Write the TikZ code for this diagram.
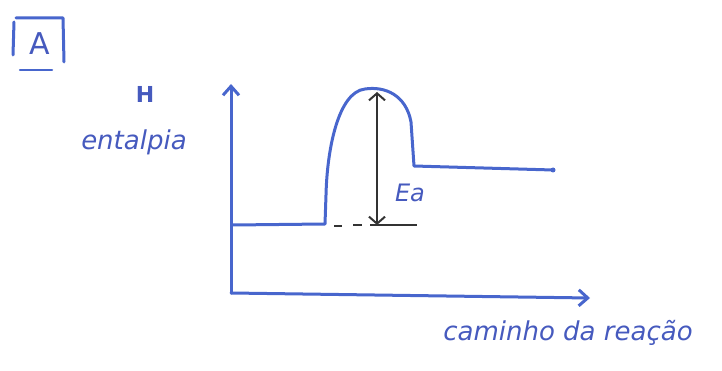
\documentclass[tikz,border=0pt]{standalone}
\usepackage{fontspec}
\setmainfont{DejaVu Sans}
\usetikzlibrary{arrows.meta}
\definecolor{pen}{RGB}{72,102,205}
\definecolor{ink}{RGB}{70,90,190}
\begin{document}
\begin{tikzpicture}[x=1pt,y=-1pt,
  penline/.style={draw=pen,line width=3pt,line cap=round,line join=round},
  axis/.style={penline,-{Straight Barb[length=9pt,width=16pt]}},
  handtext/.style={text=ink,font=\itshape\fontsize{26}{28}\selectfont,inner sep=0pt}]
\useasboundingbox (0,0) rectangle (722,371);
% boxed label A
\draw[penline] (14,22) -- (13,55);
\draw[penline] (16,18) -- (63,18) -- (64,62);
\node[handtext,font=\fontsize{30}{32}\selectfont] (lblA) at (40,44) {A};
\draw[penline,line width=2.5pt] (20,70) -- (52,70);
% axes
\coordinate (o) at (231,293);
\coordinate (ytip) at (231,84);
\coordinate (xtip) at (590,298);
\draw[axis] (o) -- (ytip);
\draw[axis] (o) -- (xtip);
% labels
\node[handtext,font=\bfseries\fontsize{22}{24}\selectfont] (H) at (145,94) {H};
\node[handtext] (ent) at (134,142) {entalpia};
\node[handtext] (cam) at (568,333) {caminho da reação};
% energy profile
\draw[penline] (233,225) -- (325,224) -- (326,195)
  .. controls (327,150) and (338,92) .. (365,89)
  .. controls (385,86) and (406,95) .. (411,122)
  -- (414,166) -- (553,170);
\fill[pen] (553,170) circle (2.5pt);
% baseline
\draw[black!80,line width=1.8pt] (334,226) -- (342,226);
\draw[black!80,line width=1.8pt] (353,225) -- (362,225);
\draw[black!80,line width=1.8pt] (370,225) -- (417,225);
% Ea arrow
\coordinate (eatop) at (377,92);
\coordinate (eabot) at (377,225);
\draw[black!80,line width=2pt,{Straight Barb[length=7pt,width=16pt]}-{Straight Barb[length=7pt,width=16pt]}] (eatop) -- (eabot);
\node[handtext,font=\itshape\fontsize{24}{26}\selectfont] (ea) at (410,193) {Ea};
\end{tikzpicture}
\end{document}
